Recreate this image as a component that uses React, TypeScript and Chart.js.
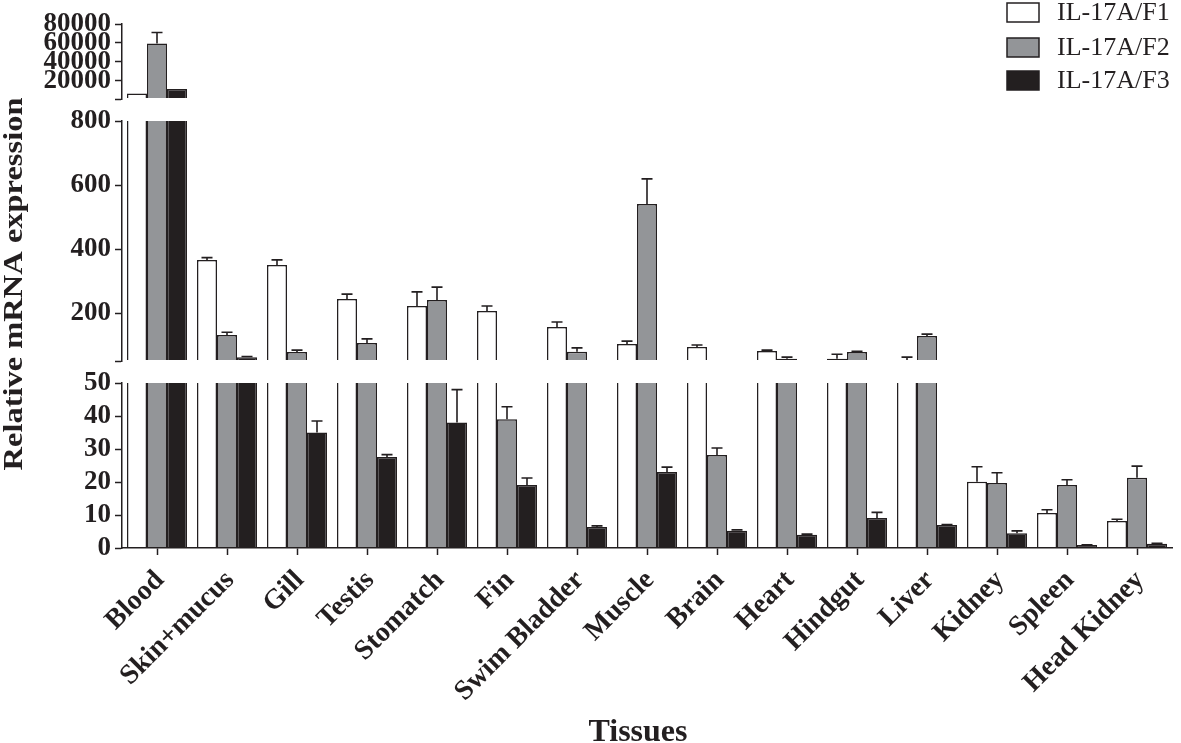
import React, { useEffect, useRef } from 'react';
import { Chart, registerables } from 'chart.js';

Chart.register(...registerables);

// ---------- data ----------
const categories = [
  'Blood', 'Skin+mucus', 'Gill', 'Testis', 'Stomatch', 'Fin', 'Swim Bladder',
  'Muscle', 'Brain', 'Heart', 'Hindgut', 'Liver', 'Kidney', 'Spleen', 'Head Kidney',
];
const seriesNames = ['IL-17A/F1', 'IL-17A/F2', 'IL-17A/F3'];

const f1Values = [6500, 366, 350, 244, 222, 206, 156, 103, 94, 81, 57, 53, 20.1, 10.6, 8.2];
const f1Upper = [6500, 373, 366, 259, 266, 222, 172, 112, 100, 84, 71, 62, 24.6, 11.6, 8.7];

const f2Values = [59500, 131, 78, 106, 241, 39, 79, 541, 28.2, 57, 78, 128, 19.7, 19.1, 21.3];
const f2Upper = [71000, 140, 84, 119, 281, 42.8, 91, 619, 30.3, 62, 80, 134, 22.8, 20.7, 24.8];

const f3Values = [11400, 62, 35, 27.6, 38, 19.1, 6.4, 23, 5.2, 4, 9.1, 7, 4.5, 0.9, 1.3];
const f3Upper = [11400, 64, 38.5, 28.3, 48, 21.2, 6.7, 24.5, 5.5, 4.2, 10.8, 7.1, 5.2, 1.0, 1.4];

const topTicks = [800, 20000, 40000, 60000, 80000];
const midTicks = [50, 200, 400, 600, 800];
const bottomTicks = [0, 10, 20, 30, 40, 50];

// ---------- styles ----------
const INK = '#231f20';
const GRAY = '#939598';
const fills = ['#ffffff', GRAY, INK];
const W = 1181;
const H = 743;
const SERIF = "'Liberation Serif', 'Times New Roman', serif";

const values = [f1Values, f2Values, f3Values];
const uppers = [f1Upper, f2Upper, f3Upper];

const errorBarPlugin = {
  id: 'errorBars',
  afterDatasetsDraw(chart: any) {
    const { ctx, chartArea } = chart;
    const yScale = chart.scales.y;
    ctx.save();
    ctx.beginPath();
    ctx.rect(chartArea.left, chartArea.top, chartArea.right - chartArea.left, chartArea.bottom - chartArea.top - 1);
    ctx.clip();
    ctx.strokeStyle = INK;
    ctx.lineWidth = 1.6;
    chart.data.datasets.forEach((ds: any, i: number) => {
      const meta = chart.getDatasetMeta(i);
      meta.data.forEach((el: any, j: number) => {
        const v = values[i][j];
        const u = uppers[i][j];
        if (u <= v) return;
        const y0 = yScale.getPixelForValue(v);
        const y1 = yScale.getPixelForValue(u);
        const x = el.x;
        ctx.beginPath();
        ctx.moveTo(x, y0);
        ctx.lineTo(x, y1);
        ctx.moveTo(x - 5.5, y1);
        ctx.lineTo(x + 5.5, y1);
        ctx.stroke();
      });
    });
    ctx.restore();
  },
};

const legendPlugin = {
  id: 'customLegend',
  afterDraw(chart: any) {
    const { ctx } = chart;
    const centers = [12.5, 47.5, 80.5];
    ctx.save();
    seriesNames.forEach((name, i) => {
      const cy = centers[i];
      ctx.fillStyle = fills[i];
      ctx.fillRect(1007, cy - 9.5, 32, 19);
      ctx.strokeStyle = INK;
      ctx.lineWidth = 1.5;
      ctx.strokeRect(1007, cy - 9.5, 32, 19);
      ctx.fillStyle = INK;
      ctx.font = `26px ${SERIF}`;
      ctx.textAlign = 'left';
      ctx.textBaseline = 'middle';
      ctx.fillText(name, 1057, cy + 1);
    });
    ctx.restore();
  },
};

const titlesPlugin = {
  id: 'titles',
  afterDraw(chart: any) {
    const { ctx } = chart;
    ctx.save();
    ctx.fillStyle = INK;
    ctx.font = `bold 28px ${SERIF}`;
    const text = 'Relative mRNA expression';
    const tw = ctx.measureText(text).width;
    const sx = 373 / tw;
    ctx.translate(15, 284);
    ctx.rotate(-Math.PI / 2);
    ctx.scale(sx, 1);
    ctx.textAlign = 'center';
    ctx.textBaseline = 'middle';
    ctx.fillText(text, 0, 0);
    ctx.restore();

    ctx.save();
    ctx.fillStyle = INK;
    ctx.font = `bold 32px ${SERIF}`;
    ctx.textAlign = 'center';
    ctx.textBaseline = 'alphabetic';
    ctx.fillText('Tissues', 638, 741);
    ctx.restore();
  },
};

type Panel = {
  min: number;
  max: number;
  ticks: number[];
  hidden: number[];
  padTop: number;
  padBottom: number;
  showX: boolean;
  plugins: any[];
};

const panels: Panel[] = [
  { min: 800, max: 80000, ticks: topTicks, hidden: [800], padTop: 24, padBottom: H - 99, showX: false, plugins: [errorBarPlugin, legendPlugin] },
  { min: 50, max: 800, ticks: midTicks, hidden: [50], padTop: 121, padBottom: H - 361, showX: false, plugins: [errorBarPlugin] },
  { min: 0, max: 50, ticks: bottomTicks, hidden: [], padTop: 383, padBottom: 0, showX: true, plugins: [errorBarPlugin, titlesPlugin] },
];

function makeConfig(p: Panel): any {
  return {
    type: 'bar',
    data: {
      labels: categories,
      datasets: seriesNames.map((name, i) => ({
        label: name,
        data: values[i],
        backgroundColor: fills[i],
        borderColor: INK,
        borderWidth: 1.5,
        borderSkipped: 'start',
        categoryPercentage: 60 / 70,
        barPercentage: 1,
        clip: { left: 0, right: 0, top: 0, bottom: -1 },
      })),
    },
    options: {
      animation: false,
      responsive: false,
      maintainAspectRatio: false,
      layout: { padding: { top: p.padTop, bottom: p.padBottom, left: 0, right: W - 1172 } },
      plugins: { legend: { display: false }, tooltip: { enabled: false }, title: { display: false } },
      scales: {
        x: {
          display: p.showX,
          afterFit: (s: any) => { s.height = p.showX ? H - 548 : 0; },
          grid: { display: true, drawOnChartArea: false, offset: false, tickLength: 7, tickWidth: 1.5, tickColor: INK, color: INK },
          border: { display: true, color: INK, width: 1.5 },
          ticks: {
            autoSkip: false,
            maxRotation: 45,
            minRotation: 45,
            padding: 9,
            labelOffset: 3,
            color: INK,
            font: { family: SERIF, size: 28, weight: 'bold' },
          },
        },
        y: {
          min: p.min,
          max: p.max,
          afterFit: (s: any) => { s.width = 122; },
          afterBuildTicks: (s: any) => { s.ticks = p.ticks.map((v) => ({ value: v })); },
          grid: { display: true, drawOnChartArea: false, tickLength: 7, tickWidth: 1.5, tickColor: INK, color: INK },
          border: { display: true, color: INK, width: 1.5 },
          ticks: {
            autoSkip: false,
            padding: 4,
            color: INK,
            font: { family: SERIF, size: 27, weight: 'bold' },
            callback: (v: any) => (p.hidden.includes(Number(v)) ? '' : String(v)),
          },
        },
      },
    },
    plugins: p.plugins,
  };
}

export default function App() {
  const r0 = useRef<HTMLCanvasElement>(null);
  const r1 = useRef<HTMLCanvasElement>(null);
  const r2 = useRef<HTMLCanvasElement>(null);

  useEffect(() => {
    const refs = [r0, r1, r2];
    const charts = panels.map((p, i) => new Chart(refs[i].current as HTMLCanvasElement, makeConfig(p)));
    return () => charts.forEach((c) => c.destroy());
  }, []);

  const cs: React.CSSProperties = { position: 'absolute', left: 0, top: 0, width: W, height: H };
  return (
    <div style={{ position: 'absolute', left: 0, top: 0, width: W, height: H, background: '#fff' }}>
      <canvas ref={r0} width={W} height={H} style={cs} />
      <canvas ref={r1} width={W} height={H} style={cs} />
      <canvas ref={r2} width={W} height={H} style={cs} />
    </div>
  );
}
